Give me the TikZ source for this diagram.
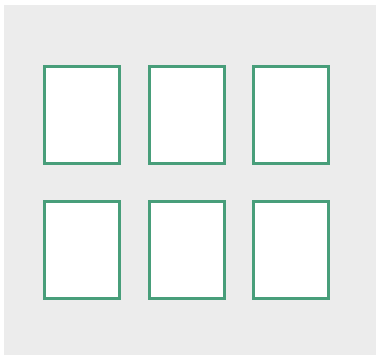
\documentclass[tikz,border=0pt]{standalone}
\usepackage{xcolor}
\usepackage{tikz}
\usetikzlibrary{positioning}

\definecolor{panelgray}{RGB}{236,236,236}
\definecolor{cardgreen}{RGB}{72,158,122}

\begin{document}
\begin{tikzpicture}[
    x=1pt, y=-1pt,
    card/.style={draw=cardgreen, line width=3pt, fill=white,
                 minimum width=75pt, minimum height=97pt,
                 inner sep=0pt, outer sep=0pt}
  ]
  \useasboundingbox (0, 0) rectangle (376, 355);

  % background panel
  \fill[panelgray] (4, 5) rectangle (376, 355);

  % top row
  \node[card] (c11) at (82, 115) {};
  \node[card] (c12) at (186.5, 115) {};
  \node[card] (c13) at (291, 115) {};

  % bottom row
  \node[card] (c21) at (82, 250) {};
  \node[card] (c22) at (186.5, 250) {};
  \node[card] (c23) at (291, 250) {};
\end{tikzpicture}
\end{document}
